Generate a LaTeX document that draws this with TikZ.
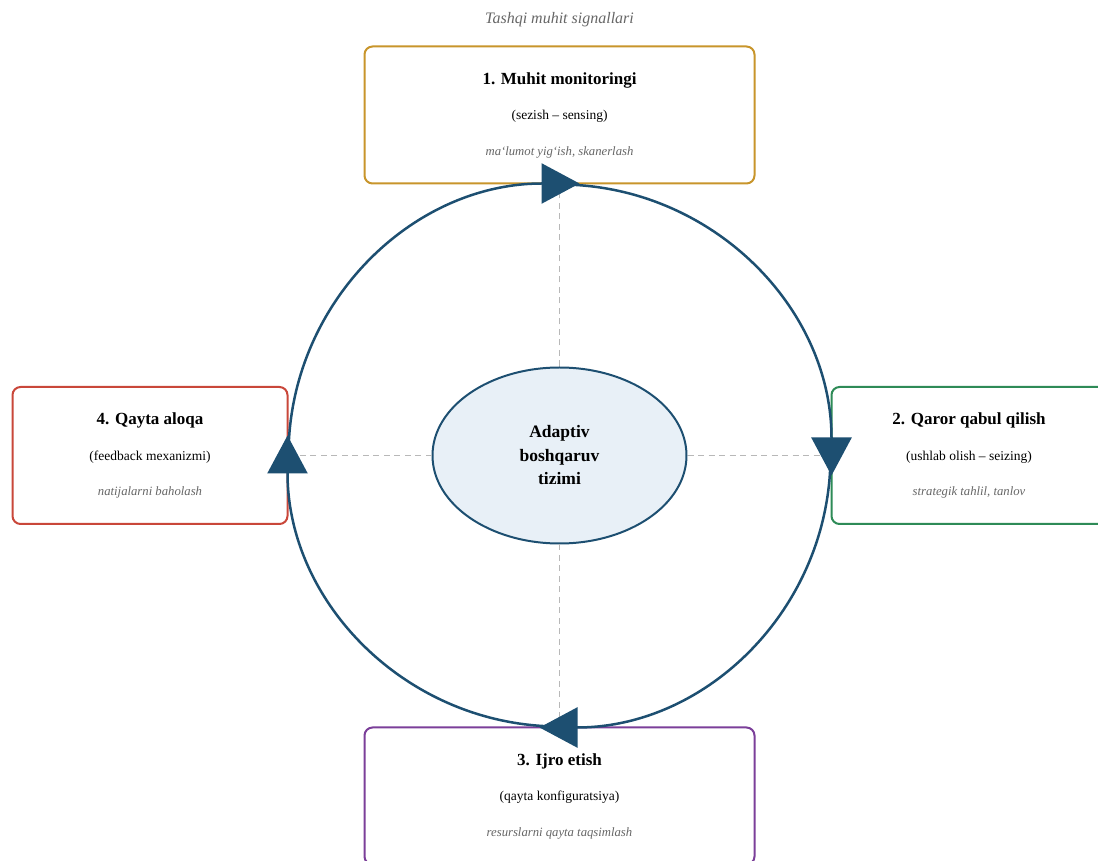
\documentclass[tikz,border=0pt]{standalone}
\usepackage{fontspec}
\setmainfont{Liberation Serif}
\usetikzlibrary{arrows.meta,shapes.geometric}

\definecolor{loopblue}{HTML}{1D4F71}
\definecolor{hubfill}{HTML}{E8F0F7}
\definecolor{senseclr}{HTML}{C8952B}
\definecolor{seizeclr}{HTML}{2E8B57}
\definecolor{actclr}{HTML}{7B3F99}
\definecolor{backclr}{HTML}{C9473A}
\definecolor{notegray}{HTML}{666666}
\definecolor{spokegray}{HTML}{B8B8B8}

\begin{document}
\begin{tikzpicture}[x=1pt,y=1pt]
   \tikzstyle{stage}=[draw, line width=2pt, rounded corners=8pt, minimum height=137pt, align=center, fill=white, font=\fontsize{13.5}{35.5}\selectfont]
   \tikzstyle{spoke}=[draw=spokegray, line width=1.8pt, dash pattern=on 6pt off 4.5pt]
   \tikzstyle{cycle}=[draw=loopblue, line width=2.5pt, -{Triangle[length=38pt,width=40pt]}, shorten >=-19pt]

\useasboundingbox (0,0) rectangle (1098,860);

\node (sig) at (559.5,840) {\fontsize{16}{20}\selectfont\itshape\color{notegray}Tashqi muhit signallari};

% center of the loop
\node[ellipse, draw=loopblue, line width=2pt, fill=hubfill, minimum width=254pt, minimum height=176pt, inner sep=0pt, align=center, font=\bfseries\fontsize{17.5}{23.5}\selectfont] (hub) at (559.5,404.5) {Adaptiv\\boshqaruv\\tizimi};

% the four stages
\node[stage, draw=senseclr, minimum width=390pt] (m1) at (559.5,745) {{\bfseries\fontsize{17}{35.5}\selectfont 1. Muhit monitoringi}\\(sezish -- sensing)\\{\itshape\color{notegray}\fontsize{12.7}{35.5}\selectfont ma‘lumot yig‘ish, skanerlash}};
\node[stage, draw=seizeclr, minimum width=275pt] (m2) at (969,404.5) {{\bfseries\fontsize{17}{35.5}\selectfont 2. Qaror qabul qilish}\\(ushlab olish -- seizing)\\{\itshape\color{notegray}\fontsize{12.7}{35.5}\selectfont strategik tahlil, tanlov}};
\node[stage, draw=actclr, minimum width=390pt] (m3) at (559.5,64) {{\bfseries\fontsize{17}{35.5}\selectfont 3. Ijro etish}\\(qayta konfiguratsiya)\\{\itshape\color{notegray}\fontsize{12.7}{35.5}\selectfont resurslarni qayta taqsimlash}};
\node[stage, draw=backclr, minimum width=275pt] (m4) at (150,404.5) {{\bfseries\fontsize{17}{35.5}\selectfont 4. Qayta aloqa}\\(feedback mexanizmi)\\{\itshape\color{notegray}\fontsize{12.7}{35.5}\selectfont natijalarni baholash}};

\draw[spoke] (hub.north) -- (m1.south);
\draw[spoke] (hub.east) -- (m2.west);
\draw[spoke] (hub.south) -- (m3.north);
\draw[spoke] (hub.west) -- (m4.east);

% the loop, clockwise
\draw[cycle] (m1.south) arc[start angle=90, end angle=0, radius=272];
\draw[cycle] (m2.west) arc[start angle=0, end angle=-90, radius=272];
\draw[cycle] (m3.north) arc[start angle=-90, end angle=-180, radius=272];
\draw[cycle] (m4.east) arc[start angle=180, end angle=90, radius=272];

\end{tikzpicture}
\end{document}
